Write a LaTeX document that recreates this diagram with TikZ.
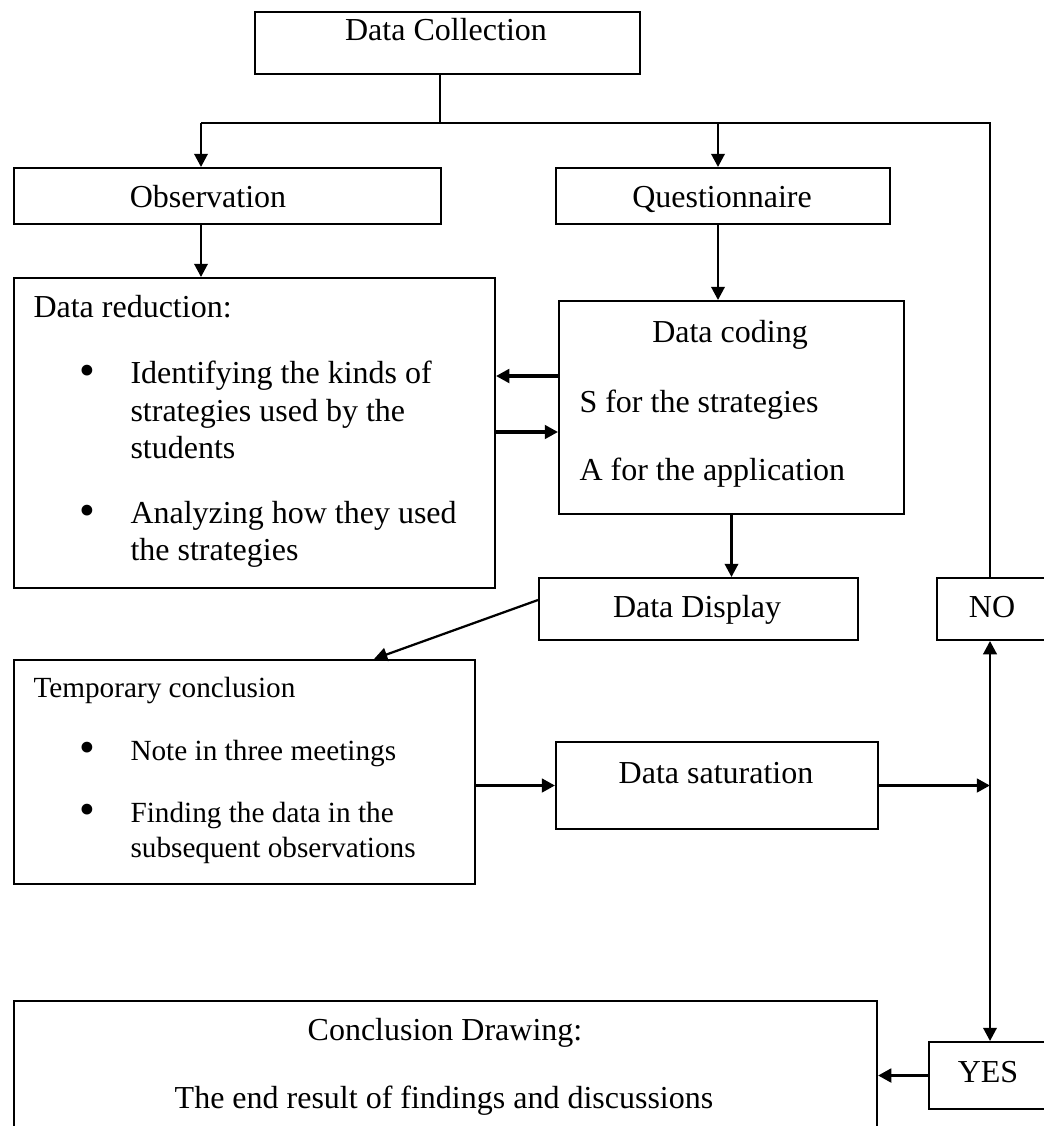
\documentclass[tikz,border=0pt]{standalone}
\usepackage{fontspec}
\setmainfont{Liberation Serif}
\usetikzlibrary{arrows.meta}

\begin{document}
\begin{tikzpicture}[x=0.4pt,y=-0.4pt,
	font=\fontsize{12.8}{15}\selectfont,
	box/.style={draw, line width=0.8pt, anchor=north west, inner sep=0pt},
	txt/.style={anchor=base, inner sep=0pt},
	ltxt/.style={anchor=base west, inner sep=0pt},
	tempfont/.style={font=\fontsize{11.7}{14}\selectfont},
	dot/.style={anchor=center, inner sep=0pt, font=\fontsize{18}{18}\selectfont},
	arr/.style={-{Triangle[length=5.3pt,width=5.4pt]}, line width=0.9pt},
	heavyarr/.style={arr, line width=1.3pt}]

	\useasboundingbox (0,0) rectangle (1044,1126);
	\clip (0,0) rectangle (1044,1126);

	% boxes
	\node[box, minimum width=154pt, minimum height=24.8pt] (collect) at (254,11) {};
	\node[box, minimum width=170.8pt, minimum height=22.4pt] (obs) at (13,167) {};
	\node[box, minimum width=133.6pt, minimum height=22.4pt] (quest) at (555,167) {};
	\node[box, minimum width=192.4pt, minimum height=124pt] (reduct) at (13,277) {};
	\node[box, minimum width=138pt, minimum height=85.2pt] (coding) at (558,300) {};
	\node[box, minimum width=127.6pt, minimum height=24.8pt] (display) at (538,577) {};
	\node[box, minimum width=45.6pt, minimum height=24.8pt] (no) at (936,577) {};
	\node[box, minimum width=184.4pt, minimum height=89.6pt] (temp) at (13,659) {};
	\node[box, minimum width=128.8pt, minimum height=34.8pt] (satur) at (555,741) {};
	\node[box, minimum width=345.2pt, minimum height=56pt] (concl) at (13,1000) {};
	\node[box, minimum width=48.8pt, minimum height=26.8pt] (yes) at (928,1041) {};

	% texts
	\node[txt] (collectT) at (446,40) {Data Collection};
	\node[txt] (obsT) at (208,207) {Observation};
	\node[txt] (questT) at (722,207) {Questionnaire};

	\node[ltxt] (reductT) at (33,317) {Data reduction:};
	\node[dot] (dotA) at (87,375) {\textbullet};
	\node[ltxt] (identA) at (130,383) {Identifying the kinds of};
	\node[ltxt] (identB) at (130,421) {strategies used by the};
	\node[ltxt] (identC) at (130,458) {students};
	\node[dot] (dotB) at (87,515) {\textbullet};
	\node[ltxt] (analyzA) at (130,523) {Analyzing how they used};
	\node[ltxt] (analyzB) at (130,560) {the strategies};

	\node[txt] (codingT) at (730,342) {Data coding};
	\node[ltxt] (codeS) at (579,412) {S for the strategies};
	\node[ltxt] (codeA) at (579,480) {A for the application};

	\node[txt] (displayT) at (697,617) {Data Display};
	\node[txt] (noT) at (992,617) {NO};

	\node[ltxt, tempfont] (tempT) at (33,697) {Temporary conclusion};
	\node[dot] (dotC) at (87,752) {\textbullet};
	\node[ltxt, tempfont] (note) at (130,760) {Note in three meetings};
	\node[dot] (dotD) at (87,814) {\textbullet};
	\node[ltxt, tempfont] (findA) at (130,822) {Finding the data in the};
	\node[ltxt, tempfont] (findB) at (130,857) {subsequent observations};

	\node[txt] (saturT) at (716,783) {Data saturation};
	\node[txt] (conclT) at (445,1040) {Conclusion Drawing:};
	\node[txt] (endT) at (444,1108) {The end result of findings and discussions};
	\node[txt] (yesT) at (988,1082) {YES};

	% split
	\coordinate (split) at (440,123);
	\coordinate (left) at (201,123);
	\coordinate (mid) at (718,123);
	\coordinate (right) at (990,123);
	\coordinate (back) at (0,376);
	\coordinate (fwd) at (0,432);

	\draw[line width=0.8pt] (collect.south -| split) -- (split);
	\draw[line width=0.8pt] (left) -- (right) -- (no.north -| right);
	\draw[arr] (left) -- (obs.north -| left);
	\draw[arr] (mid) -- (quest.north -| mid);
	\draw[arr] (obs.south -| left) -- (reduct.north -| left);
	\draw[arr] (quest.south -| mid) -- (coding.north -| mid);

	% coding and reduction
	\draw[heavyarr] (coding.west |- back) -- (reduct.east |- back);
	\draw[heavyarr] (reduct.east |- fwd) -- (coding.west |- fwd);
	\draw[arr] (coding.south) -- (coding.south |- display.north);
	\draw[arr] ([yshift=3.6pt]display.west) -- ([xshift=51.8pt]temp.north);

	% saturation
	\draw[heavyarr] (temp.east |- satur.west) -- (satur.west);
	\draw[heavyarr] (satur.east) -- (satur.east -| right);
	\draw[arr] (satur.east -| right) -- (no.south -| right);
	\draw[arr] (satur.east -| right) -- (yes.north -| right);
	\draw[heavyarr] (yes.west) -- (concl.east |- yes.west);

\end{tikzpicture}
\end{document}
